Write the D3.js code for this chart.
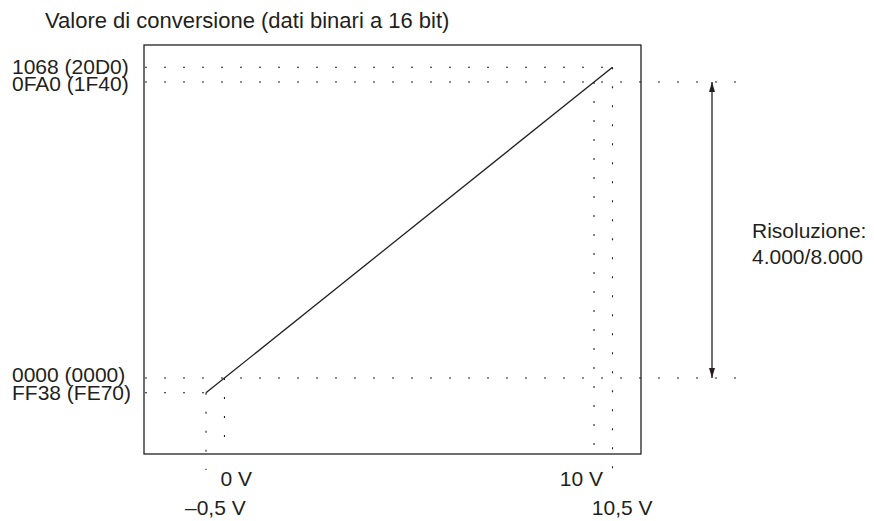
<!DOCTYPE html>
<html>
<head>
<meta charset="utf-8">
<script src="https://cdn.jsdelivr.net/npm/d3@7"></script>
<style>
  html, body { margin: 0; padding: 0; background: #fff; }
  svg { display: block; }
  text { font-family: "Liberation Sans", Arial, sans-serif; fill: #231f20; }
</style>
</head>
<body>
<svg id="chart" width="874" height="521"></svg>
<script>
// ---- data ----
const title = "Valore di conversione (dati binari a 16 bit)";
const inputVolts = [-0.5, 0, 10, 10.5];
const voltLabels = ["\u20130,5 V", "0 V", "10 V", "10,5 V"];
const convValues = [-200, 0, 4000, 4200];
const convLabels = ["FF38 (FE70)", "0000 (0000)", "0FA0 (1F40)", "1068 (20D0)"];
const lineVolts = [-0.5, 10.5];
const lineValues = [-200, 4200];
const resolutionSpan = [0, 4000];
const resolutionLabel = ["Risoluzione:", "4.000/8.000"];

// ---- layout ----
const svg = d3.select("#chart");
const frame = { left: 144, right: 641, top: 45, bottom: 454 };
const ink = "#231f20";
const fs = 21;

const x = d3.scaleLinear().domain([-0.5, 10.5]).range([206, 612.5]);
const y = d3.scaleLinear().domain([0, 4000]).range([378, 82]);

// arrow markers
const defs = svg.append("defs");
["start", "end"].forEach(k => {
  defs.append("marker")
    .attr("id", "arr-" + k)
    .attr("viewBox", "0 0 10 10")
    .attr("refX", 10).attr("refY", 5)
    .attr("markerWidth", 10).attr("markerHeight", 10)
    .attr("markerUnits", "userSpaceOnUse")
    .attr("orient", k === "start" ? "auto-start-reverse" : "auto")
    .append("path").attr("d", "M0,2 L10,5 L0,8 Z").attr("fill", ink);
});

// title
svg.append("text").attr("x", 45).attr("y", 28).attr("font-size", 22).text(title);

// frame
svg.append("rect")
  .attr("x", frame.left).attr("y", frame.top)
  .attr("width", frame.right - frame.left).attr("height", frame.bottom - frame.top)
  .attr("fill", "none").attr("stroke", ink).attr("stroke-width", 1.3);

const dot = g => g.attr("stroke", ink).attr("stroke-width", 1.1)
  .attr("stroke-dasharray", "2,17").attr("fill", "none");

// horizontal dotted guides
const hEnds = [x(-0.5), 745, 745, x(10.5)];
convValues.forEach((v, i) => {
  svg.append("line")
    .attr("x1", frame.left + 1).attr("x2", hEnds[i])
    .attr("y1", y(v)).attr("y2", y(v)).call(dot);
});

// vertical dotted guides
const vStartVals = [-200, 0, 4000, 4200];
const vEnds = [470, frame.bottom, frame.bottom, 484];
inputVolts.forEach((v, i) => {
  svg.append("line")
    .attr("x1", x(v)).attr("x2", x(v))
    .attr("y1", y(vStartVals[i])).attr("y2", vEnds[i]).call(dot);
});

// conversion line
const line = d3.line().x(d => x(d[0])).y(d => y(d[1]));
svg.append("path")
  .datum(lineVolts.map((v, i) => [v, lineValues[i]]))
  .attr("d", line).attr("fill", "none").attr("stroke", ink).attr("stroke-width", 1.3);

// y labels (baseline offsets from guide line), slightly stretched horizontally
const yLabOff = [7, 4, 9, 7];
convValues.forEach((v, i) => {
  svg.append("text")
    .attr("transform", `translate(12,${y(v) + yLabOff[i]}) scale(1.05,1)`)
    .attr("font-size", 20).text(convLabels[i]);
});

// x labels
const xLab = [
  { anchor: "start", dx: -21, y: 515 },
  { anchor: "start", dx: -4, y: 486 },
  { anchor: "end", dx: 9, y: 486 },
  { anchor: "end", dx: 40, y: 515 }
];
inputVolts.forEach((v, i) => {
  svg.append("text").attr("x", x(v) + xLab[i].dx).attr("y", xLab[i].y)
    .attr("text-anchor", xLab[i].anchor)
    .attr("font-size", fs).text(voltLabels[i]);
});

// resolution arrow
svg.append("line")
  .attr("x1", 712).attr("x2", 712)
  .attr("y1", y(resolutionSpan[1])).attr("y2", y(resolutionSpan[0]))
  .attr("stroke", ink).attr("stroke-width", 1.3)
  .attr("marker-start", "url(#arr-start)").attr("marker-end", "url(#arr-end)");

resolutionLabel.forEach((t, i) => {
  svg.append("text").attr("x", 752).attr("y", 238 + i * 26)
    .attr("font-size", fs).text(t);
});
</script>
</body>
</html>
